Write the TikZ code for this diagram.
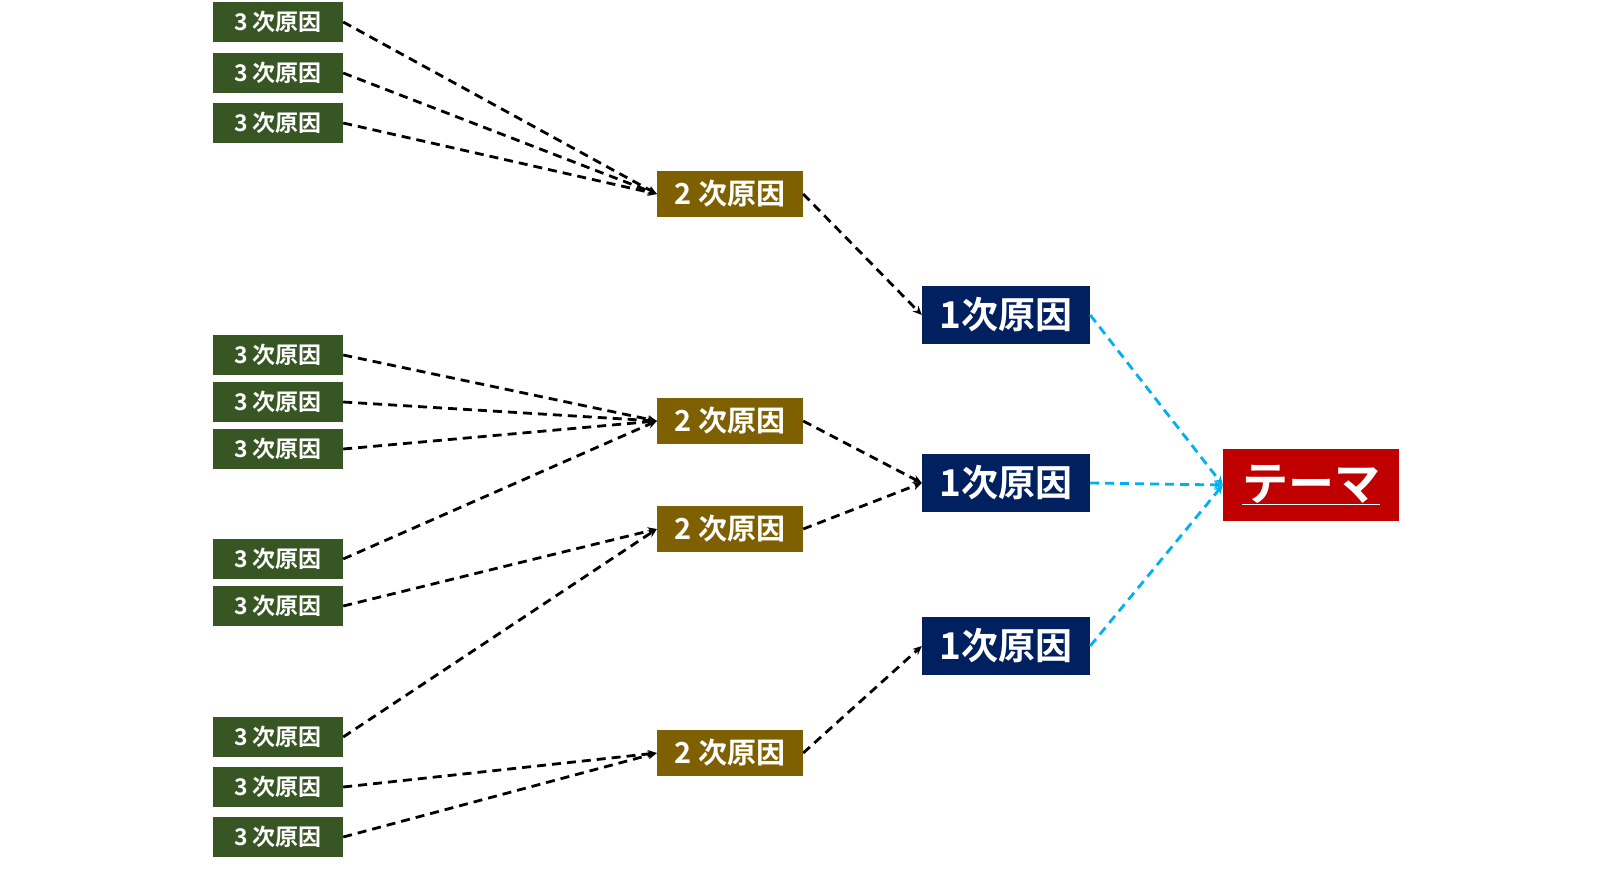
\documentclass[tikz,border=0pt]{standalone}
\usepackage{fontspec}
\setmainfont{Noto Sans CJK JP}[BoldFont={Noto Sans CJK JP Bold}]
\usetikzlibrary{arrows.meta}
\definecolor{g3}{HTML}{375623}
\definecolor{b2}{HTML}{7F6000}
\definecolor{n1}{HTML}{002060}
\definecolor{rt}{HTML}{C00000}
\definecolor{cy}{HTML}{00B0F0}
\begin{document}
\begin{tikzpicture}[x=1pt,y=-1pt,
 box/.style={inner sep=0pt,text=white,font=\bfseries},
 t3/.style={box,fill=g3,minimum width=130pt,minimum height=40pt,font=\bfseries\fontsize{23}{23}\selectfont},
 t2/.style={box,fill=b2,minimum width=146pt,minimum height=46pt,font=\bfseries\fontsize{29}{29}\selectfont},
 t1/.style={box,fill=n1,minimum width=168pt,minimum height=58pt,font=\bfseries\fontsize{37}{37}\selectfont},
 cn/.style={line width=2.8pt,dash pattern=on 9pt off 6pt,-{Stealth[length=9pt,width=8pt]}},
 ck/.style={cn,black},
 cc/.style={cn,cy}]
\useasboundingbox (0,0) rectangle (1600,888);
\foreach \n/\y in {a/22,b/73,c/123,d/355,e/402,f/449,g/559,h/606,i/737,j/787,k/837}
  \node[t3] (s\n) at (278,\y) {3 次原因};
\foreach \n/\y in {A/194,B/421,C/529,D/753}
  \node[t2] (p\n) at (730,\y) {2 次原因};
\foreach \n/\y in {1/315,2/483,3/646}
  \node[t1] (q\n) at (1006,\y) {1次原因};
\node[box,fill=rt,minimum width=176pt,minimum height=72pt,font=\bfseries\fontsize{46}{46}\selectfont] (t) at (1311,485) {\underline{テーマ}};
\foreach \s in {a,b,c} \draw[ck] (s\s.east) -- (pA.west);
\foreach \s in {d,e,f,g} \draw[ck] (s\s.east) -- (pB.west);
\foreach \s in {h,i} \draw[ck] (s\s.east) -- (pC.west);
\foreach \s in {j,k} \draw[ck] (s\s.east) -- (pD.west);
\draw[ck] (pA.east) -- (q1.west);
\draw[ck] (pB.east) -- (q2.west);
\draw[ck] (pC.east) -- (q2.west);
\draw[ck] (pD.east) -- (q3.west);
\foreach \q in {1,2,3} \draw[cc] (q\q.east) -- (t.west);
\end{tikzpicture}
\end{document}
